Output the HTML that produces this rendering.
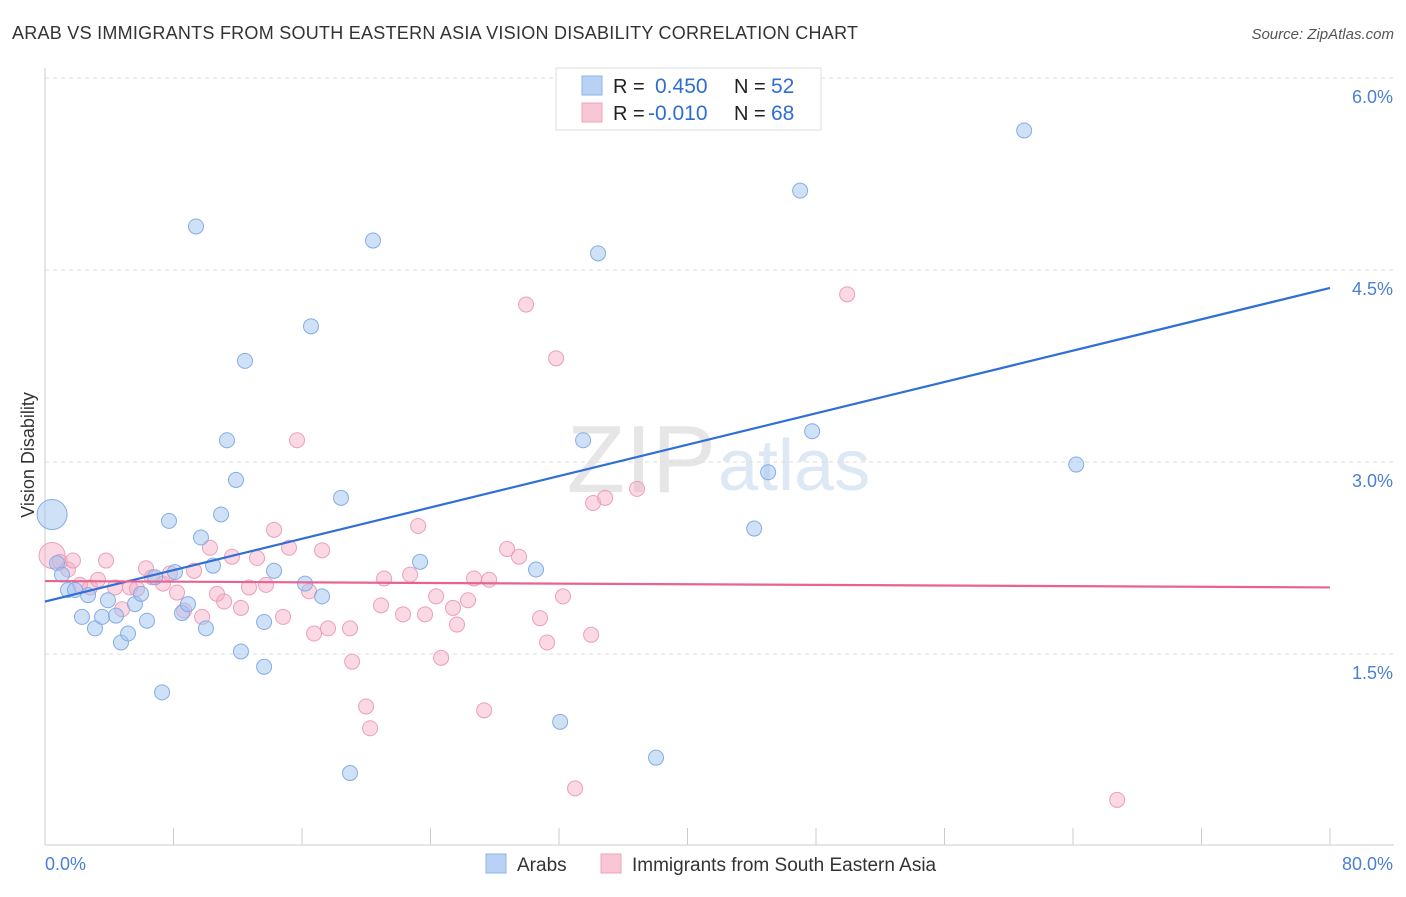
<!DOCTYPE html>
<html><head><meta charset="utf-8"><style>
body{margin:0;background:#fff;font-family:"Liberation Sans",sans-serif;}
svg text{font-family:"Liberation Sans",sans-serif;}
</style></head><body>
<svg id="chart" width="1406" height="892">
<text x="12" y="39" font-size="18" fill="#333" textLength="846">ARAB VS IMMIGRANTS FROM SOUTH EASTERN ASIA VISION DISABILITY CORRELATION CHART</text>
<text x="1394" y="39" font-size="15" fill="#555" font-style="italic" text-anchor="end">Source: ZipAtlas.com</text>
<text x="716" y="492" font-size="96" fill="#e6e6e6" text-anchor="end" font-family="Liberation Serif">ZIP</text>
<text x="718" y="490" font-size="72" fill="#dde8f5">atlas</text>
<g id="grid"></g><g id="axes"></g><g id="pink"></g><g id="blue"></g><g id="lines"></g>
<text x="34" y="455" font-size="18" fill="#333" text-anchor="middle" transform="rotate(-90 34 455)">Vision Disability</text>
<text x="45" y="870" font-size="18" fill="#4a7fd4">0.0%</text>
<text x="1393" y="870" font-size="18" fill="#4a7fd4" text-anchor="end">80.0%</text>
<g>
<rect x="556" y="68" width="265" height="62" fill="#fff" stroke="#ddd"/>
<rect x="582" y="76" width="20" height="19" fill="#b9d1f5" stroke="#8db3e8"/>
<rect x="582" y="103" width="20" height="19" fill="#f8c6d5" stroke="#f0a3bb"/>
<text x="613" y="93" font-size="20" fill="#222">R =</text><text x="655" y="93" font-size="21" fill="#2f6ed1">0.450</text>
<text x="734" y="93" font-size="20" fill="#222">N =</text><text x="771" y="93" font-size="21" fill="#2f6ed1">52</text>
<text x="613" y="120" font-size="20" fill="#222">R =</text><text x="648" y="120" font-size="21" fill="#2f6ed1">-0.010</text>
<text x="734" y="120" font-size="20" fill="#222">N =</text><text x="771" y="120" font-size="21" fill="#2f6ed1">68</text>
</g>
<g>
<rect x="486" y="854" width="20" height="19" fill="#b9d1f5" stroke="#8db3e8"/>
<text x="517" y="871" font-size="19" fill="#333">Arabs</text>
<rect x="601" y="854" width="20" height="19" fill="#f8c6d5" stroke="#f0a3bb"/>
<text x="632" y="871" font-size="19" fill="#333">Immigrants from South Eastern Asia</text>
</g>
</svg>
<script>
const yTicks=[1.5,3.0,4.5,6.0];
const xTicks=[0,8,16,24,32,40,48,56,64,72,80];
const blueX=[0.44,0.75,1.06,1.43,1.87,2.30,2.68,3.11,3.55,3.92,4.42,4.73,5.17,5.60,5.98,6.35,6.85,7.29,7.72,8.09,8.53,8.90,9.40,9.71,10.02,10.46,10.96,11.33,11.89,12.20,12.45,13.64,13.64,14.26,16.19,16.56,17.25,18.43,18.99,20.42,23.35,30.57,32.07,33.50,34.43,38.04,44.15,45.02,47.01,47.76,60.96,64.20];
const blueY=[2.59,2.21,2.12,2.00,2.00,1.79,1.96,1.70,1.79,1.92,1.80,1.59,1.66,1.89,1.97,1.76,2.10,1.20,2.54,2.14,1.82,1.89,4.84,2.41,1.70,2.19,2.59,3.17,2.86,1.52,3.79,1.75,1.40,2.15,2.05,4.06,1.95,2.72,0.57,4.73,2.22,2.16,0.97,3.17,4.63,0.69,2.48,2.92,5.12,3.24,5.59,2.98];
const pinkX=[0.44,0.93,1.43,1.74,2.18,2.80,3.30,3.80,4.36,4.80,5.29,5.73,6.29,6.66,7.35,7.78,8.22,8.66,9.28,9.78,10.27,10.71,11.15,11.64,12.20,12.70,13.20,13.76,14.26,14.82,15.19,15.69,16.44,16.75,17.25,17.62,18.99,19.12,19.99,20.24,20.92,21.11,22.29,22.73,23.23,23.66,24.35,24.66,25.40,25.65,26.34,26.71,27.34,27.65,28.77,29.51,29.95,30.82,31.26,31.82,32.25,33.00,34.00,34.12,34.87,36.86,49.94,66.75];
const pinkY=[2.27,2.22,2.16,2.23,2.04,2.02,2.08,2.23,2.02,1.85,2.02,2.01,2.17,2.10,2.05,2.13,1.98,1.84,2.15,1.79,2.33,1.97,1.91,2.26,1.86,2.02,2.25,2.04,2.47,1.79,2.33,3.17,1.99,1.66,2.31,1.70,1.70,1.44,1.09,0.92,1.88,2.09,1.81,2.12,2.50,1.81,1.95,1.47,1.86,1.73,1.92,2.09,1.06,2.08,2.32,2.26,4.23,1.78,1.59,3.81,1.95,0.45,1.65,2.68,2.72,2.79,4.31,0.36];
const trendX=[0,80];
const blueTrend=[1.91,4.36];
const pinkTrend=[2.07,2.02];
const NS="http://www.w3.org/2000/svg";
const sx=v=>45+v*(1285/80);
const sy=v=>846-v*128;
function mk(t,a,p){const e=document.createElementNS(NS,t);for(const k in a)e.setAttribute(k,a[k]);p.appendChild(e);return e;}
const grid=document.getElementById('grid'),axes=document.getElementById('axes');
yTicks.forEach(t=>{
 const l=mk('line',{x1:45,x2:1394,y1:sy(t),y2:sy(t),stroke:'#ddd','stroke-dasharray':'4,4'},grid);
 
 
 const tx=mk('text',{x:1393,y:sy(t)+25,'font-size':18,fill:'#4a7fd4','text-anchor':'end'},grid);
 tx.textContent=t.toFixed(1)+'%';
 
 
});
const tg=mk('line',{x1:45,x2:1394,y1:78,y2:78,stroke:'#ddd','stroke-dasharray':'4,4'},grid);


const xa=mk('line',{x1:45,x2:1394,y1:845,y2:845,stroke:'#ccc'},axes);


const ya=mk('line',{x1:45,x2:45,y1:68,y2:845,stroke:'#ccc'},axes);


xTicks.forEach(t=>{
 const l=mk('line',{x1:sx(t),x2:sx(t),y1:828,y2:845,stroke:'#ccc'},axes);
 
 
});
function dots(xs,ys,g,fill,stroke,name,bigR){
 xs.forEach((x,i)=>{
  const c=mk('circle',{cx:sx(x),cy:sy(ys[i]),r:i===0?bigR:7.5,fill:fill,stroke:stroke,'stroke-width':1},g);
  
  
 });
}
dots(pinkX,pinkY,document.getElementById('pink'),'rgba(244,170,195,0.45)','#ec9fb9','immigrants-point',13);
dots(blueX,blueY,document.getElementById('blue'),'rgba(160,195,240,0.5)','#85ace6','arabs-point',15);
const lg=document.getElementById('lines');
const bl=mk('line',{x1:sx(trendX[0]),y1:sy(blueTrend[0]),x2:sx(trendX[1]),y2:sy(blueTrend[1]),stroke:'#2f6fd6','stroke-width':2.2},lg);


const pl=mk('line',{x1:sx(trendX[0]),y1:sy(pinkTrend[0]),x2:sx(trendX[1]),y2:sy(pinkTrend[1]),stroke:'#e8638f','stroke-width':2.2},lg);


</script>
</body></html>
